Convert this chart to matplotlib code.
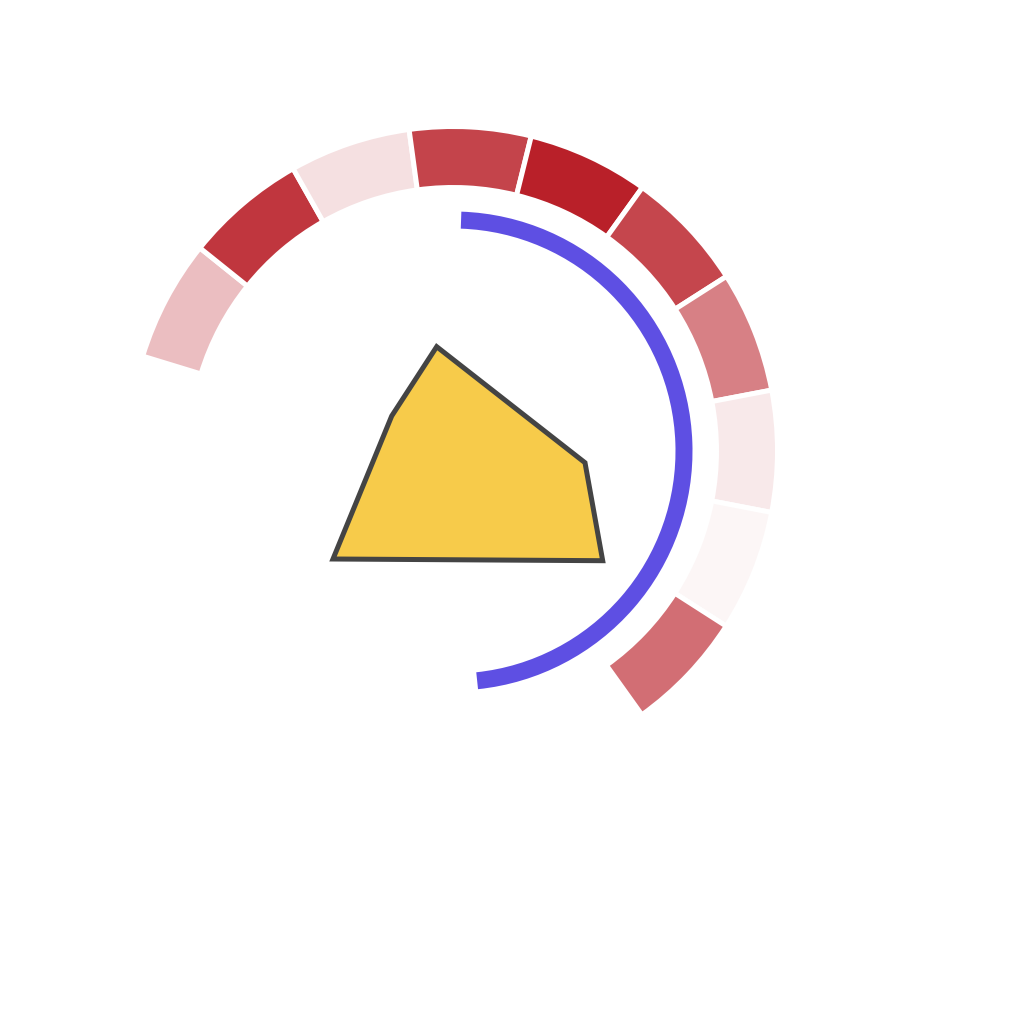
import matplotlib
matplotlib.use('Agg')
import matplotlib.pyplot as plt
import numpy as np
from matplotlib.patches import Wedge, Polygon

# Outer ring: intensity of each segment (0 = white, 1 = full red), drawn clockwise from the left
segment_values = [0.29, 0.90, 0.14, 0.84, 1.00, 0.83, 0.57, 0.10, 0.04, 0.65]
ring_start, ring_end = 163.0, -54.4  # degrees

# Progress arc (degrees)
arc_start, arc_end = 88.0, -84.0

# Yellow shape, in pixel coordinates of the picture
poly_x = [436.7, 391.7, 333.0, 602.7, 585.0]
poly_y = [346.7, 416.0, 559.0, 560.7, 462.7]

base_red = np.array([185, 32, 41]) / 255
center = (453, 1024 - 451)

fig = plt.figure(figsize=(10.24, 10.24), dpi=100)
ax = fig.add_axes([0, 0, 1, 1])
ax.set_xlim(0, 1024)
ax.set_ylim(0, 1024)
ax.set_aspect('equal')
ax.axis('off')

# Ring segments
n = len(segment_values)
step = (ring_start - ring_end) / n
for i, v in enumerate(segment_values):
    colour = 1 - v * (1 - base_red)
    hi = ring_start - i * step
    lo = hi - step
    ax.add_patch(Wedge(center, 324.5, lo, hi, width=61, facecolor=colour,
                       edgecolor='white', linewidth=3.6))

# Blue arc
ax.add_patch(Wedge(center, 239.5, arc_end, arc_start, width=17, facecolor='#5E4FE3', edgecolor='none'))

# Polygon
pts = np.column_stack([poly_x, 1024 - np.array(poly_y)])
ax.add_patch(Polygon(pts, closed=True, facecolor='#F7CB4A', edgecolor='#444444', linewidth=3.6,
                     joinstyle='miter'))

fig.savefig('out.png', dpi=100, facecolor='white')
